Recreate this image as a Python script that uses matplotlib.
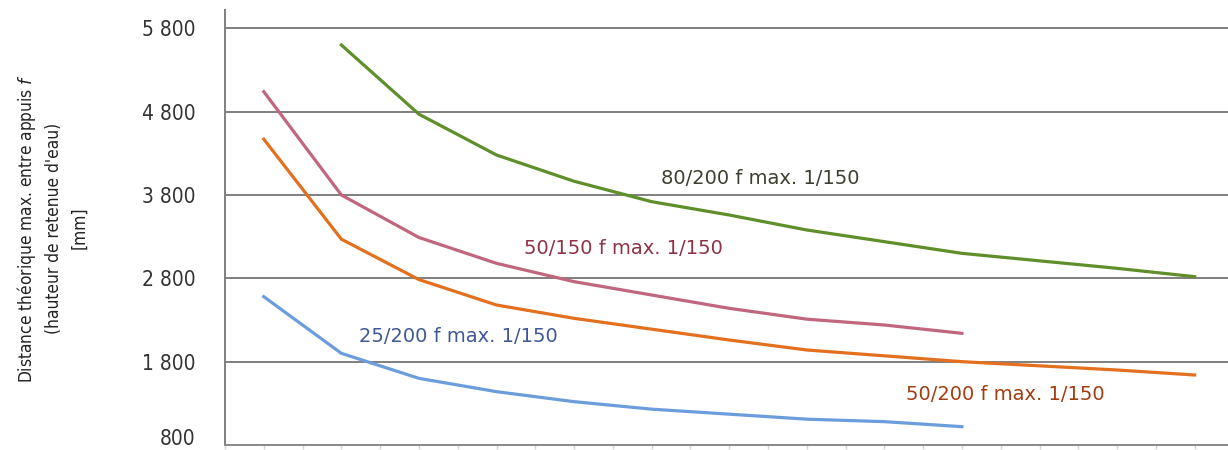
import matplotlib
matplotlib.use('Agg')
import matplotlib.pyplot as plt
from matplotlib import font_manager as fm
import numpy as np

# Data (x = category index, y = distance in mm)
x_all = list(range(13))

y_80_200 = [5600, 4770, 4280, 3965, 3720, 3560, 3380, 3240, 3100, 3010, 2920, 2820]   # starts at index 1
y_50_150 = [5040, 3800, 3290, 2980, 2760, 2600, 2440, 2310, 2240, 2140]
y_50_200 = [4470, 3270, 2785, 2480, 2320, 2190, 2060, 1940, 1870, 1800, 1750, 1700, 1640]
y_25_200 = [2580, 1900, 1600, 1440, 1320, 1230, 1170, 1110, 1080, 1020]

y_ticks = [800, 1800, 2800, 3800, 4800, 5800]
y_tick_labels = ['800', '1 800', '2 800', '3 800', '4 800', '5 800']

labels = ['80/200 f max. 1/150', '50/150 f max. 1/150',
          '25/200 f max. 1/150', '50/200 f max. 1/150']

# pick a narrow font for the axis texts if one is installed
narrow = None
for f in fm.fontManager.ttflist:
    fn = f.fname.lower()
    if ('narrow' in fn or 'condensed' in fn) and f.style == 'normal' and f.weight in (400, 'normal', 'regular'):
        if 'bold' in fn or 'light' in fn or 'oblique' in fn or 'italic' in fn:
            continue
        narrow = fm.FontProperties(fname=f.fname)
        break
if narrow is None:
    narrow = fm.FontProperties(family='Liberation Sans')

fig = plt.figure(figsize=(12.28, 4.5), dpi=100)
ax = fig.add_axes([225 / 1228, 5 / 450, 1 - 225 / 1228, 435 / 450])

# Lines
ax.plot(x_all[1:1 + len(y_80_200)], y_80_200, color='#5f8f2a', lw=2.3, zorder=3)
ax.plot(x_all[:len(y_50_150)], y_50_150, color='#c0677e', lw=2.3, zorder=3)
ax.plot(x_all[:len(y_50_200)], y_50_200, color='#e2701f', lw=2.3, zorder=3)
ax.plot(x_all[:len(y_25_200)], y_25_200, color='#6c9ddb', lw=2.3, zorder=3)

# Curve labels
ax.text(5.12, 4000, labels[0], color='#3b4030', fontsize=14, ha='left', va='center')
ax.text(3.36, 3164, labels[1], color='#8e3346', fontsize=14, ha='left', va='center')
ax.text(1.23, 2096, labels[2], color='#3f5896', fontsize=14, ha='left', va='center')
ax.text(8.28, 1412, labels[3], color='#a33c12', fontsize=14, ha='left', va='center')

# Axes
ax.set_xlim(-0.476, 12.43)
ax.set_ylim(800, 6020)
ax.set_yticks(y_ticks)
ax.set_yticklabels(y_tick_labels, fontproperties=narrow, fontsize=15, color='#333333')
ax.get_yticklabels()[0].set_va('baseline')
ax.tick_params(axis='y', length=0, pad=21)
ax.set_xticks(np.arange(-0.5, 12.5, 0.5))
ax.set_xticklabels([])
ax.tick_params(axis='x', length=3, color='#d0d0d0', width=1)

ax.grid(axis='y', color='#7f7f7f', lw=1.4, zorder=1)
ax.set_axisbelow(True)
for side in ['top', 'right']:
    ax.spines[side].set_visible(False)
ax.spines['left'].set_color('#7f7f7f')
ax.spines['left'].set_linewidth(1.4)
ax.spines['bottom'].set_color('#8a8a8a')
ax.spines['bottom'].set_linewidth(1.4)

ylab = fig.text(52 / 1228, 0.493,
                "Distance théorique max. entre appuis $f$\n(hauteur de retenue d'eau)\n[mm]",
                rotation=90, ha='center', va='center', multialignment='center',
                fontproperties=narrow, fontsize=15, color='#222222', linespacing=1.5)

# shrink the y label so its first line is about as long as in the reference
fig.canvas.draw()
h = ylab.get_window_extent().height
if h > 315:
    ylab.set_fontsize(15 * 310 / h)

fig.savefig('out.png', dpi=100)
